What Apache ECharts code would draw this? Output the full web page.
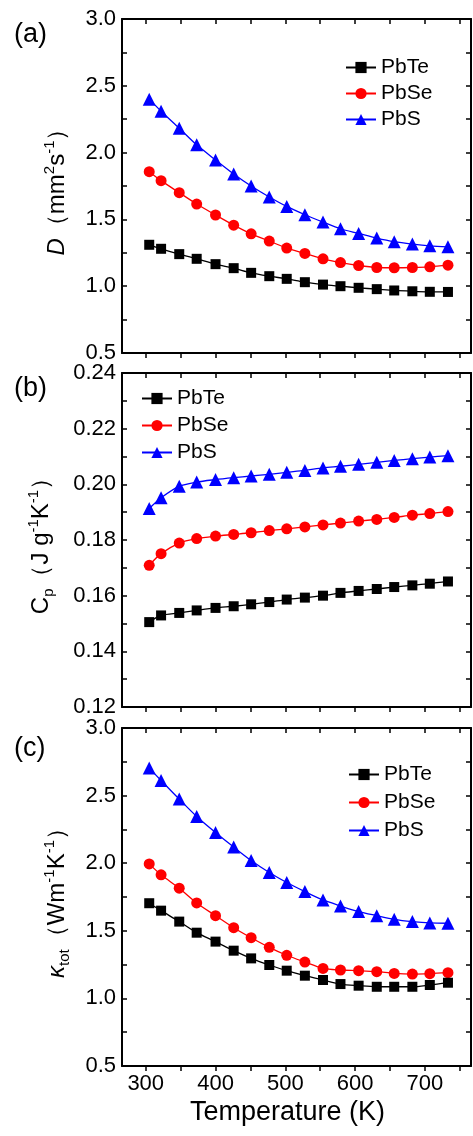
<!DOCTYPE html>
<html>
<head>
<meta charset="utf-8">
<script src="https://cdn.jsdelivr.net/npm/echarts@6/dist/echarts.min.js"></script>
<style>
  html, body { margin: 0; padding: 0; background: #fff; }
  #main { width: 473px; height: 1136px; }
</style>
</head>
<body>
<div id="main"></div>
<script>
// temperatures (K), same for every panel
var temps = [305, 322, 348, 373, 400, 426, 451, 477, 502, 528, 554, 579, 605, 631, 656, 682, 707, 733]

// (a) thermal diffusivity D (mm2 s-1)
var dPbTe = [1.31, 1.28, 1.24, 1.205, 1.165, 1.135, 1.10, 1.075, 1.055, 1.03, 1.012, 1.0, 0.988, 0.978, 0.968, 0.962, 0.958, 0.957]
var dPbSe = [1.857, 1.79, 1.70, 1.615, 1.533, 1.457, 1.392, 1.338, 1.285, 1.245, 1.205, 1.177, 1.155, 1.14, 1.138, 1.14, 1.145, 1.157]
var dPbS = [2.40, 2.31, 2.183, 2.058, 1.945, 1.84, 1.75, 1.668, 1.597, 1.535, 1.48, 1.43, 1.395, 1.36, 1.333, 1.315, 1.302, 1.295]

// (b) heat capacity Cp (J g-1 K-1)
var cpPbTe = [0.1505, 0.1529, 0.1538, 0.1547, 0.1556, 0.1562, 0.1569, 0.1577, 0.1586, 0.1593, 0.1600, 0.1610, 0.1617, 0.1624, 0.1631, 0.1637, 0.1643, 0.1651]
var cpPbSe = [0.1709, 0.1751, 0.1789, 0.1805, 0.1814, 0.1820, 0.1826, 0.1834, 0.1840, 0.1847, 0.1854, 0.1861, 0.1868, 0.1874, 0.1881, 0.1889, 0.1895, 0.1902]
var cpPbS = [0.1913, 0.1952, 0.1993, 0.2008, 0.2017, 0.2024, 0.2030, 0.2036, 0.2043, 0.2050, 0.2059, 0.2065, 0.2072, 0.2079, 0.2086, 0.2092, 0.2098, 0.2103]

// (c) total thermal conductivity (W m-1 K-1)
var kPbTe = [1.704, 1.649, 1.568, 1.486, 1.420, 1.353, 1.296, 1.247, 1.205, 1.168, 1.136, 1.106, 1.094, 1.086, 1.086, 1.086, 1.099, 1.116]
var kPbSe = [1.995, 1.914, 1.815, 1.706, 1.612, 1.523, 1.449, 1.378, 1.319, 1.269, 1.222, 1.210, 1.205, 1.198, 1.185, 1.180, 1.183, 1.190]
var kPbS = [2.704, 2.612, 2.474, 2.346, 2.227, 2.119, 2.020, 1.931, 1.857, 1.790, 1.728, 1.684, 1.642, 1.612, 1.585, 1.568, 1.558, 1.556]

var names = ['PbTe', 'PbSe', 'PbS']
var xLabels = [300, 400, 500, 600, 700]
var xTicks = [300, 350, 400, 450, 500, 550, 600, 650, 700, 750]

var FONT = '"Liberation Sans", Arial, sans-serif'
var myChart = echarts.init(document.getElementById('main'), null, { renderer: 'canvas' })

function zip(ys) {
  return temps.map(function(t, i) { return [t, ys[i]] })
}

// one marker style per compound
var looks = {
  PbTe: { color: '#000000', symbol: 'rect', size: 10 },
  PbSe: { color: '#ff0000', symbol: 'circle', size: 11 },
  PbS: { color: '#0000ff', symbol: 'triangle', size: 13 }
}

function mkSeries(name, ys, idx) {
  var lk = looks[name]
  return {
    name: name,
    type: 'line',
    xAxisIndex: idx * 2,
    yAxisIndex: idx * 2,
    data: zip(ys),
    symbol: lk.symbol,
    symbolSize: lk.size,
    smooth: 0.3,
    showAllSymbol: true,
    lineStyle: { color: lk.color, width: 1.3 },
    itemStyle: { color: lk.color },
    z: name === 'PbTe' ? 3 : 2
  }
}

var grids = [
  { left: 122, top: 19, width: 349, height: 334 },
  { left: 122, top: 373, width: 349, height: 334 },
  { left: 122, top: 728, width: 349, height: 338 }
]

var axLine = { show: true, onZero: false, lineStyle: { color: '#000', width: 2 } }
var tickStyle = { color: '#000', width: 1.5 }

var xAxes = []
var yAxes = []
grids.forEach(function(g, i) {
  // bottom x axis, ticks outward
  xAxes.push({
    type: 'value', gridIndex: i, position: 'bottom',
    min: 266, max: 766,
    axisLine: axLine,
    axisTick: { show: true, inside: false, length: 5, customValues: xTicks, lineStyle: tickStyle },
    axisLabel: {
      show: i === 2, customValues: xLabels, margin: 7,
      color: '#000', fontSize: 22, fontFamily: FONT
    },
    splitLine: { show: false },
    name: i === 2 ? 'Temperature (K)' : '',
    nameLocation: 'middle',
    nameGap: 33,
    nameTextStyle: { color: '#000', fontSize: 27, fontFamily: FONT, padding: [0, 18, 0, 0] }
  })
  // top x axis, ticks inward
  xAxes.push({
    type: 'value', gridIndex: i, position: 'top',
    min: 266, max: 766,
    axisLine: axLine,
    axisTick: { show: true, inside: true, length: 5, customValues: xTicks, lineStyle: tickStyle },
    axisLabel: { show: false },
    splitLine: { show: false }
  })
})

// y ranges per panel
var yRanges = [
  { min: 0.5, max: 3.0, interval: 0.5, dec: 1 },
  { min: 0.12, max: 0.24, interval: 0.02, dec: 2 },
  { min: 0.5, max: 3.0, interval: 0.5, dec: 1 }
]

var yNames = [
  '{i|D}{n|（mm}{sup|2}{n|s}{sup|-1}{n|）}',
  '{n|C}{sub|p}{n|（J g}{sup|-1}{n|K}{sup|-1}{n|）}',
  '{i|κ}{sub|tot}{n|（Wm}{sup|-1}{n|K}{sup|-1}{n|）}'
]
var nameGaps = [50, 66, 50]

var rich = {
  n: { fontSize: 24, fontFamily: FONT, color: '#000', lineHeight: 30 },
  i: { fontSize: 24, fontFamily: FONT, fontStyle: 'italic', color: '#000', lineHeight: 30 },
  sup: { fontSize: 15, fontFamily: FONT, color: '#000', verticalAlign: 'top', lineHeight: 30, padding: [0, 0, 12, 0] },
  sub: { fontSize: 15, fontFamily: FONT, color: '#000', verticalAlign: 'bottom', lineHeight: 30, padding: [10, 0, 0, 0] }
}

yRanges.forEach(function(r, i) {
  var minor = []
  for (var k = 0; k <= Math.round((r.max - r.min) / (r.interval / 2)); k++) {
    minor.push(+(r.min + k * r.interval / 2).toFixed(4))
  }
  yAxes.push({
    type: 'value', gridIndex: i, position: 'left',
    min: r.min, max: r.max, interval: r.interval,
    axisLine: axLine,
    axisTick: { show: true, inside: true, length: 5, customValues: minor, lineStyle: tickStyle },
    axisLabel: {
      color: '#000', fontSize: 22, fontFamily: FONT, margin: 6,
      formatter: function(v) { return v.toFixed(r.dec) }
    },
    splitLine: { show: false },
    name: yNames[i],
    nameLocation: 'middle',
    nameRotate: 90,
    nameGap: nameGaps[i],
    nameTextStyle: { rich: rich }
  })
  yAxes.push({
    type: 'value', gridIndex: i, position: 'right',
    min: r.min, max: r.max, interval: r.interval,
    axisLine: axLine,
    axisTick: { show: true, inside: true, length: 5, customValues: minor, lineStyle: tickStyle },
    axisLabel: { show: false },
    splitLine: { show: false }
  })
})

var series = [
  mkSeries('PbTe', dPbTe, 0), mkSeries('PbSe', dPbSe, 0), mkSeries('PbS', dPbS, 0),
  mkSeries('PbTe', cpPbTe, 1), mkSeries('PbSe', cpPbSe, 1), mkSeries('PbS', cpPbS, 1),
  mkSeries('PbTe', kPbTe, 2), mkSeries('PbSe', kPbSe, 2), mkSeries('PbS', kPbS, 2)
]

function mkLegend(left, top, gap) {
  return {
    data: names, orient: 'vertical', left: left, top: top,
    itemWidth: 30, itemHeight: 14, itemGap: gap,
    selectedMode: false,
    textStyle: { color: '#000', fontSize: 21, fontFamily: FONT }
  }
}

var panelLabels = [['(a)', 37], ['(b)', 391], ['(c)', 751]]

var option = {
  backgroundColor: '#fff',
  animation: false,
  grid: grids,
  xAxis: xAxes,
  yAxis: yAxes,
  legend: [mkLegend(340, 52, 5), mkLegend(136, 383, 6), mkLegend(343, 759, 7)],
  series: series,
  graphic: panelLabels.map(function(p) {
    return {
      type: 'text', left: 14, top: p[1] - 16,
      style: { text: p[0], fill: '#000', fontSize: 27, fontFamily: FONT }
    }
  })
}

myChart.setOption(option)
</script>
</body>
</html>
